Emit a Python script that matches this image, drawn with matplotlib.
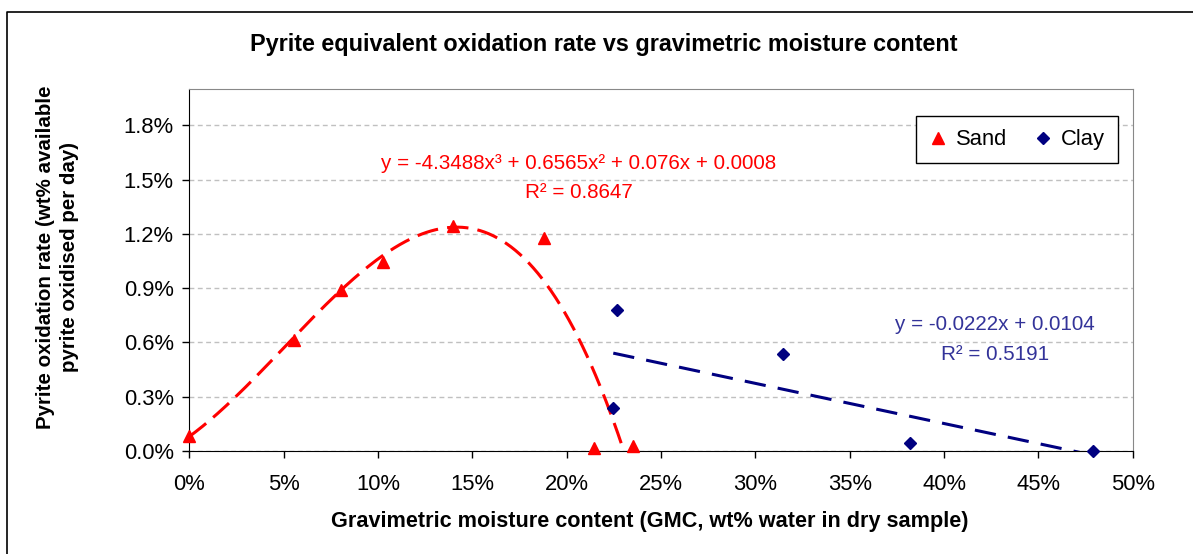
import numpy as np
import matplotlib
matplotlib.use("Agg")
import matplotlib.pyplot as plt
from matplotlib.lines import Line2D
from matplotlib.ticker import FuncFormatter

plt.rcParams['font.family'] = ['Liberation Sans', 'DejaVu Sans']

# data (fractions, shown as %)
sand_x = [0.0, 0.0557, 0.0802, 0.1028, 0.1396, 0.1882, 0.2147, 0.2350]
sand_y = [0.00083, 0.00612, 0.00890, 0.01047, 0.01245, 0.01180, 0.00018, 0.00029]
clay_x = [0.2247, 0.2265, 0.3145, 0.3820, 0.4791]
clay_y = [0.00237, 0.00779, 0.00535, 0.00045, 0.0]

# trendline equations as printed on the chart
sand_coef = [-4.3488, 0.6565, 0.076, 0.0008]
clay_coef = [-0.0222, 0.0104]
sand_eq = ["y = -4.3488x³ + 0.6565x² + 0.076x + 0.0008", "R² = 0.8647"]
clay_eq = ["y = -0.0222x + 0.0104", "R² = 0.5191"]

x_ticks = np.arange(0, 0.501, 0.05)
y_ticks = np.arange(0, 0.0181, 0.003)

W, H = 1193, 554
fig = plt.figure(figsize=(W / 100, H / 100), dpi=100)
ax = fig.add_axes([189.3 / W, 1 - 451 / H, 943.4 / W, 361.7 / H])

# outer chart border (runs off the right and bottom of the picture)
fig.add_artist(Line2D([7.5 / W, 7.5 / W, 1.0], [0.0, 1 - 12 / H, 1 - 12 / H],
                      transform=fig.transFigure, color="black", lw=1.2))

red = "#FF0000"
navy = "#000080"

ax.plot(sand_x, sand_y, linestyle="none", marker="^", ms=8, color=red,
        label="Sand", zorder=4, clip_on=False)
ax.plot(clay_x, clay_y, linestyle="none", marker="D", ms=6, color=navy,
        label="Clay", zorder=4, clip_on=False)

xs = np.linspace(min(sand_x), max(sand_x), 300)
ax.plot(xs, np.polyval(sand_coef, xs), color=red, lw=2.2, dashes=(7, 3), zorder=3)
xc = np.linspace(min(clay_x), max(clay_x), 50)
ax.plot(xc, np.polyval(clay_coef, xc), color=navy, lw=2.2, dashes=(7, 4), zorder=3)

ax.set_xlim(0, 0.5)
ax.set_ylim(0, 0.02)
ax.set_xticks(x_ticks)
ax.set_yticks(y_ticks)
ax.xaxis.set_major_formatter(FuncFormatter(lambda v, p: f"{v * 100:.0f}%"))
ax.yaxis.set_major_formatter(FuncFormatter(lambda v, p: f"{v * 100:.1f}%"))
ax.tick_params(axis="x", direction="out", length=4.7, width=1, pad=12, labelsize=15.8)
ax.tick_params(axis="y", direction="out", length=4.7, width=1, pad=6.5, labelsize=15.8)
ax.grid(axis="y", color="#C0C0C0", lw=1, dashes=(3.5, 2.5))
ax.set_axisbelow(True)

for s in ["top", "right"]:
    ax.spines[s].set_color("#888888")
for s in ["left", "bottom"]:
    ax.spines[s].set_color("black")

# equations
ax.text(0.2065, 0.01587, sand_eq[0], color=red, fontsize=14.9, ha="center", va="center")
ax.text(0.2065, 0.01432, sand_eq[1], color=red, fontsize=14.9, ha="center", va="center")
ax.text(0.4269, 0.00699, clay_eq[0], color="#333399", fontsize=14.9, ha="center", va="center")
ax.text(0.4269, 0.00533, clay_eq[1], color="#333399", fontsize=14.9, ha="center", va="center")

leg = ax.legend(loc="upper right", bbox_to_anchor=(0.9844, 0.926), ncol=2,
                fontsize=15.8, frameon=True, fancybox=False, borderaxespad=0,
                handlelength=0.8, handletextpad=0.4, columnspacing=1.25,
                borderpad=0.6, framealpha=1)
leg.get_frame().set_edgecolor("black")
leg.get_frame().set_linewidth(1)

fig.text(604 / W, 1 - 44 / H, "Pyrite equivalent oxidation rate vs gravimetric moisture content",
         fontsize=16.8, fontweight="bold", ha="center", va="center")
fig.text(650 / W, 1 - 522 / H, "Gravimetric moisture content (GMC, wt% water in dry sample)",
         fontsize=15.6, fontweight="bold", ha="center", va="center")
fig.text(57.5 / W, 1 - 257 / H, "Pyrite oxidation rate (wt% available\npyrite oxidised per day)",
         fontsize=14.8, fontweight="bold", ha="center", va="center", rotation=90,
         multialignment="center", linespacing=1.3)

fig.savefig("out.png", dpi=100)
